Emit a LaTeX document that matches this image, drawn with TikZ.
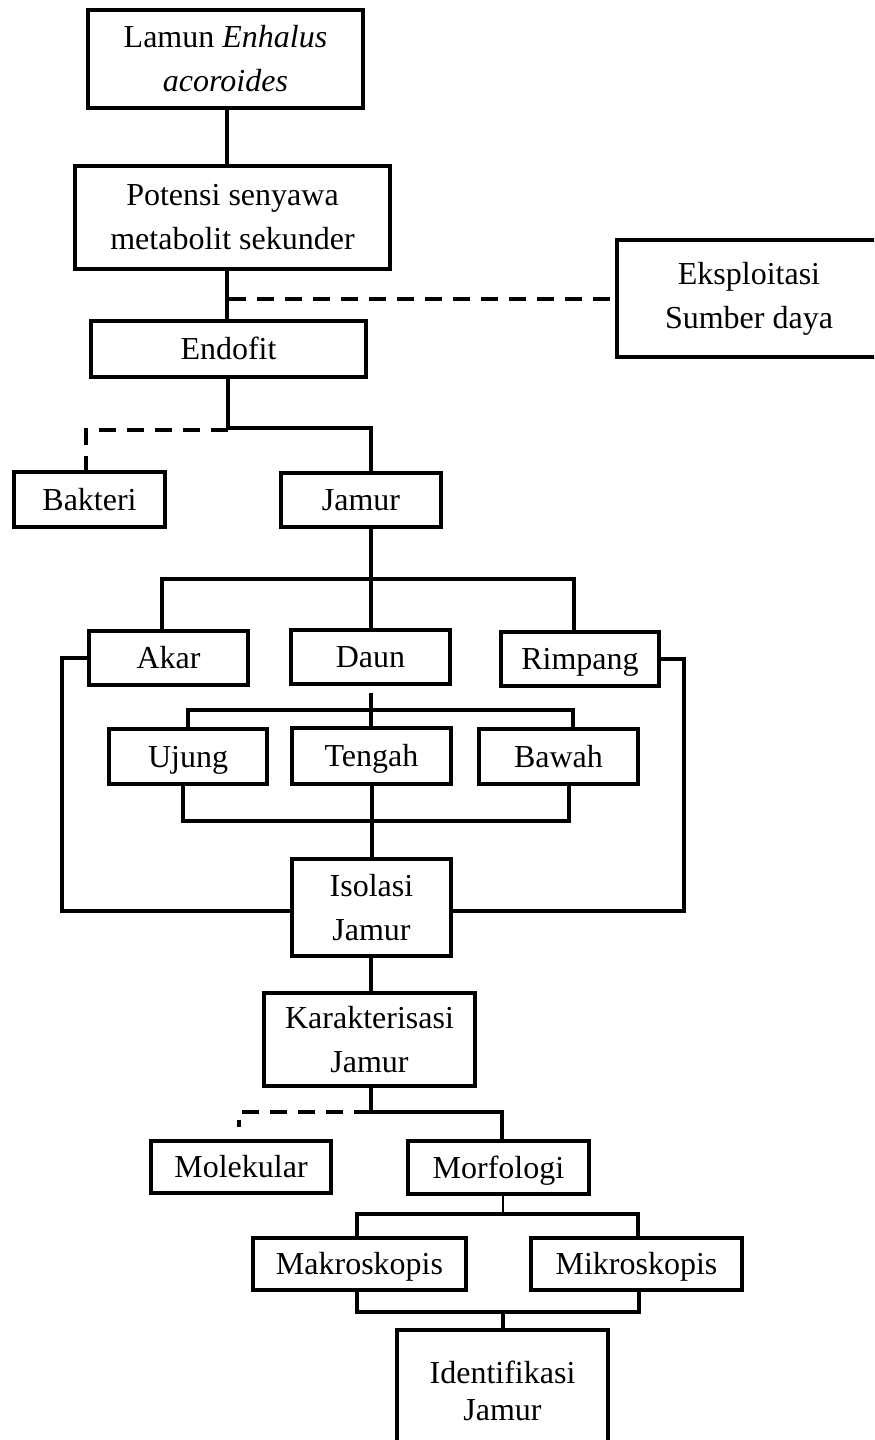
\documentclass[tikz,border=0pt]{standalone}
\usepackage{fontspec}
\setmainfont{Liberation Serif}
\begin{document}
\begin{tikzpicture}[x=0.5pt,y=-0.5pt,
  bx/.style={draw, line width=2pt, inner sep=0pt, align=center, font=\fontsize{16}{22}\selectfont},
  one/.style={text height=13.6pt, text depth=3pt},
  ln/.style={line width=2pt},
  dsh/.style={line width=2pt, dash pattern=on 8.5pt off 5.5pt},
  thn/.style={line width=0.6pt}]
\useasboundingbox (0,0) rectangle (874,1440);
\clip (0,0) rectangle (874,1440);
% nodes
\node[bx, minimum width=137.5pt, minimum height=49pt] (lamun) at (225.5,59) {Lamun \textit{Enhalus}\\\textit{acoroides}};
\node[bx, minimum width=157.5pt, minimum height=51.5pt] (potensi) at (232.5,217.5) {Potensi senyawa\\metabolit sekunder};
\node[bx, minimum width=132pt, minimum height=58.5pt] (eksp) at (749,298.5) {Eksploitasi\\Sumber daya};
\node[bx, one, minimum width=137.5pt, minimum height=28pt] (endofit) at (228.5,349) {Endofit};
\node[bx, one, minimum width=75.5pt, minimum height=27.5pt] (bakteri) at (89.5,499.5) {Bakteri};
\node[bx, one, minimum width=80pt, minimum height=27pt] (jamur) at (361,500) {Jamur};
\node[bx, one, minimum width=79.5pt, minimum height=27pt] (akar) at (168.5,658) {Akar};
\node[bx, one, minimum width=79.5pt, minimum height=27pt] (daun) at (370.5,657) {Daun};
\node[bx, one, minimum width=79pt, minimum height=27pt] (rimpang) at (580,659) {Rimpang};
\node[bx, one, minimum width=79pt, minimum height=27.5pt] (ujung) at (188,756.5) {Ujung};
\node[bx, one, minimum width=79.5pt, minimum height=28pt] (tengah) at (371.5,756) {Tengah};
\node[bx, one, minimum width=79.5pt, minimum height=27.5pt] (bawah) at (558.5,756.5) {Bawah};
\node[bx, minimum width=79.5pt, minimum height=48.5pt] (isolasi) at (371.5,907.5) {Isolasi\\Jamur};
\node[bx, minimum width=105.5pt, minimum height=46.5pt] (karakt) at (369.5,1039.5) {Karakterisasi\\Jamur};
\node[bx, one, minimum width=90pt, minimum height=26pt] (molek) at (241,1167) {Molekular};
\node[bx, one, minimum width=90.5pt, minimum height=26.5pt] (morf) at (498.5,1167.5) {Morfologi};
\node[bx, one, minimum width=106.5pt, minimum height=26pt] (makro) at (359.5,1264) {Makroskopis};
\node[bx, one, minimum width=105.5pt, minimum height=26pt] (mikro) at (636.5,1264) {Mikroskopis};
\node[bx, minimum width=105.5pt, minimum height=60.5pt, font=\fontsize{16}{18.5}\selectfont] (ident) at (502.5,1390.5) {Identifikasi\\Jamur};
% helper coordinates
\coordinate (j1) at (371,428);
\coordinate (b1) at (86,430);
\coordinate (a1) at (162,579);
\coordinate (r1) at (574,579);
\coordinate (d1) at (371,693);
\coordinate (u1) at (188,710);
\coordinate (w1) at (573,710);
\coordinate (u2) at (183,821);
\coordinate (w2) at (569,821);
\coordinate (lft) at (62,911);
\coordinate (rgt) at (684,911);
\coordinate (k1) at (371,1112);
\coordinate (k2) at (502,1112);
\coordinate (m1) at (239,1127);
\coordinate (n1) at (357,1214);
\coordinate (n2) at (638,1214);
\coordinate (p1) at (357,1312);
\coordinate (p2) at (639,1312);
% connectors
\draw[ln] (lamun.south -| 227,0) -- (potensi.north -| 227,0);
\draw[ln] (potensi.south -| 227,0) -- (endofit.north -| 227,0);
\draw[dsh] (eksp.west -| 229,0) -- (eksp.west);
\draw[ln] (endofit.south -| 228,0) |- (j1) -- (j1 |- jamur.north);
\draw[dsh] (b1 -| 228,0) -- (b1) -- (b1 |- bakteri.north);
\draw[ln] (j1 |- jamur.south) -- (j1 |- daun.north);
\draw[ln] (a1 |- akar.north) -- (a1) -- (r1) -- (r1 |- rimpang.north);
\draw[ln] (d1) -- (d1 |- tengah.north);
\draw[ln] (u1 |- ujung.north) -- (u1) -- (w1) -- (w1 |- bawah.north);
\draw[ln] (u2 |- ujung.south) -- (u2) -- (w2) -- (w2 |- bawah.south);
\draw[ln] (tengah.south -| 372,0) -- (isolasi.north -| 372,0);
\draw[ln] (akar.west) -| (lft) -- (isolasi.west |- lft);
\draw[ln] (rimpang.east) -| (rgt) -- (isolasi.east |- rgt);
\draw[ln] (isolasi.south -| 371,0) -- (karakt.north -| 371,0);
\draw[ln] (karakt.south -| 371,0) -- (k1) -- (k2) -- (k2 |- morf.north);
\draw[dsh] (k1) -- (m1 |- k1) -- (m1);
\draw[thn] (morf.south -| 503,0) -- (503,1214);
\draw[ln] (n1 |- makro.north) -- (n1) -- (n2) -- (n2 |- mikro.north);
\draw[ln] (p1 |- makro.south) -- (p1) -- (p2) -- (p2 |- mikro.south);
\draw[ln] (503,1312) -- (ident.north -| 503,0);
\end{tikzpicture}
\end{document}
